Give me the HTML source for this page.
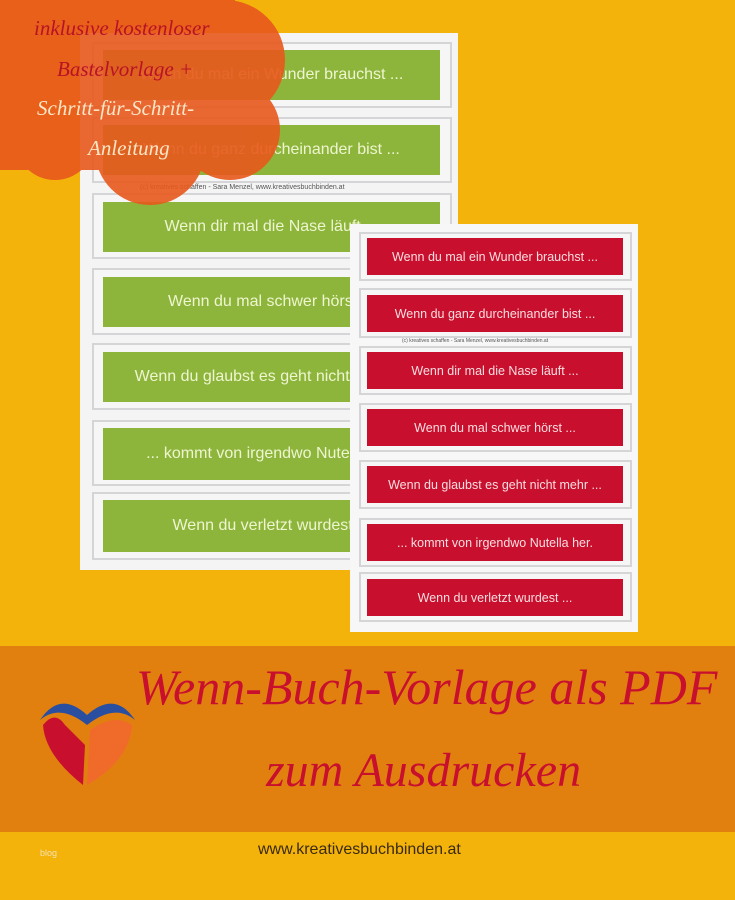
<!DOCTYPE html>
<html><head><meta charset="utf-8"><style>
body{margin:0;width:735px;height:900px;background:#f4b30b;position:relative;overflow:hidden;font-family:"Liberation Sans",sans-serif}
.a{position:absolute}
.sheet{background:#f4f4f4;position:absolute}
.fr{position:absolute;border:2px solid #d5d5d8;box-sizing:border-box;background:#f6f6f6}
.g{position:absolute;background:#8db53b;color:#eef5d0;font-size:16px;display:flex;align-items:center;justify-content:center;white-space:nowrap;overflow:hidden}
.r{position:absolute;background:#c8102e;color:#f8dde0;font-size:12.5px;display:flex;align-items:center;justify-content:center;white-space:nowrap}
.hand{font-family:"Liberation Serif",serif;font-style:italic}
</style></head><body>
<div class="sheet" style="left:80px;top:33px;width:378px;height:537px"></div>
<div class="fr" style="left:92px;top:42px;width:360px;height:66px"></div><div class="g" style="left:103px;top:50px;width:337px;height:50px">Wenn du mal ein Wunder brauchst ...</div>
<div class="fr" style="left:92px;top:117px;width:360px;height:66px"></div><div class="g" style="left:103px;top:125px;width:337px;height:50px">Wenn du ganz durcheinander bist ...</div>
<div class="a" style="left:140px;top:184px;font-size:7px;color:#555">(c) kreatives schaffen - Sara Menzel, www.kreativesbuchbinden.at</div>
<div class="fr" style="left:92px;top:193px;width:360px;height:66px"></div><div class="g" style="left:103px;top:202px;width:337px;height:50px">Wenn dir mal die Nase läuft ...</div>
<div class="fr" style="left:92px;top:268px;width:360px;height:67px"></div><div class="g" style="left:103px;top:277px;width:337px;height:50px">Wenn du mal schwer hörst ...</div>
<div class="fr" style="left:92px;top:343px;width:360px;height:67px"></div><div class="g" style="left:103px;top:352px;width:337px;height:50px">Wenn du glaubst es geht nicht mehr ...</div>
<div class="fr" style="left:92px;top:420px;width:360px;height:66px"></div><div class="g" style="left:103px;top:428px;width:337px;height:52px">... kommt von irgendwo Nutella her.</div>
<div class="fr" style="left:92px;top:492px;width:360px;height:68px"></div><div class="g" style="left:103px;top:500px;width:337px;height:52px">Wenn du verletzt wurdest ...</div>

<div class="sheet" style="left:350px;top:224px;width:288px;height:408px;background:#f7f7f7"></div>
<div class="fr" style="left:359px;top:232px;width:273px;height:49px"></div><div class="r" style="left:367px;top:238px;width:256px;height:37px">Wenn du mal ein Wunder brauchst ...</div>
<div class="fr" style="left:359px;top:288px;width:273px;height:50px"></div><div class="r" style="left:367px;top:295px;width:256px;height:37px">Wenn du ganz durcheinander bist ...</div>
<div class="a" style="left:402px;top:338px;font-size:5px;color:#555">(c) kreatives schaffen - Sara Menzel, www.kreativesbuchbinden.at</div>
<div class="fr" style="left:359px;top:346px;width:273px;height:49px"></div><div class="r" style="left:367px;top:352px;width:256px;height:37px">Wenn dir mal die Nase läuft ...</div>
<div class="fr" style="left:359px;top:403px;width:273px;height:49px"></div><div class="r" style="left:367px;top:409px;width:256px;height:37px">Wenn du mal schwer hörst ...</div>
<div class="fr" style="left:359px;top:460px;width:273px;height:49px"></div><div class="r" style="left:367px;top:466px;width:256px;height:37px">Wenn du glaubst es geht nicht mehr ...</div>
<div class="fr" style="left:359px;top:518px;width:273px;height:49px"></div><div class="r" style="left:367px;top:524px;width:256px;height:37px">... kommt von irgendwo Nutella her.</div>
<div class="fr" style="left:359px;top:572px;width:273px;height:50px"></div><div class="r" style="left:367px;top:579px;width:256px;height:37px">Wenn du verletzt wurdest ...</div>

<svg class="a" style="left:0;top:0" width="300" height="210">
<g fill="#e8581c" opacity="0.9">
<rect x="0" y="0" width="235" height="170"/>
<circle cx="225" cy="60" r="60"/><circle cx="230" cy="130" r="50"/><circle cx="150" cy="150" r="55"/><circle cx="55" cy="140" r="40"/>
</g></svg>
<div class="a hand" style="left:34px;top:16px;font-size:21px;color:#b81226">inklusive kostenloser</div>
<div class="a hand" style="left:57px;top:57px;font-size:21px;color:#b81226">Bastelvorlage +</div>
<div class="a hand" style="left:37px;top:96px;font-size:21px;color:#fbe6c6">Schritt-für-Schritt-</div>
<div class="a hand" style="left:88px;top:136px;font-size:21px;color:#fbe6c6">Anleitung</div>

<div class="a" style="left:0;top:646px;width:735px;height:186px;background:#e2800f"></div>
<svg class="a" style="left:35px;top:685px" width="105" height="105">
<path d="M5 35 Q25 5 52 30 Q80 5 100 35 Q80 18 52 40 Q25 18 5 35Z" fill="#2a4fa0"/>
<path d="M8 40 Q20 25 30 40 L50 60 L48 100 Q10 70 8 40Z" fill="#c8102e"/>
<path d="M55 45 Q80 28 97 40 Q95 75 52 100Z" fill="#f06a2a"/>
</svg>
<div class="a hand" style="left:136px;top:658px;font-size:50px;color:#c8102e;white-space:nowrap">Wenn-Buch-Vorlage als PDF</div>
<div class="a hand" style="left:266px;top:743px;font-size:48px;color:#c8102e;white-space:nowrap">zum Ausdrucken</div>
<div class="a" style="left:40px;top:848px;font-size:9px;color:#f3e1b0">blog</div>
<div class="a" style="left:258px;top:841px;font-size:16px;color:#3a2a10">www.kreativesbuchbinden.at</div>
</body></html>
